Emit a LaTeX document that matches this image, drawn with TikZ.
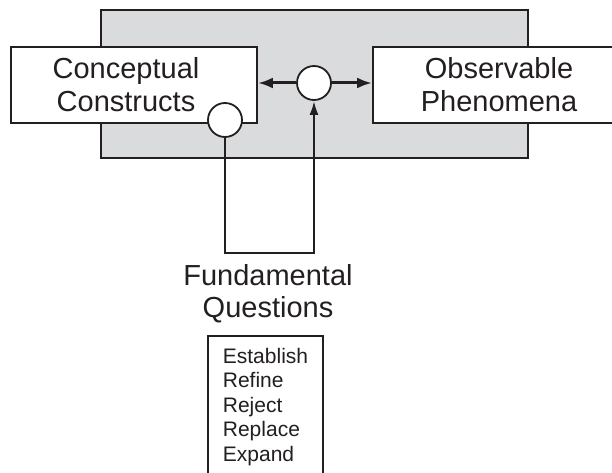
\documentclass[tikz,border=0pt]{standalone}
\usepackage{fontspec}
\setmainfont{Liberation Sans}
\usetikzlibrary{arrows.meta,calc}
\definecolor{ink}{RGB}{35,31,32}
\definecolor{panel}{RGB}{218,219,221}
\tikzstyle{box}=[rectangle,draw=ink,fill=white,line width=1.8pt,inner sep=0pt]
\tikzstyle{boxtext}=[align=center,text=ink,inner sep=0pt,font=\fontsize{29}{33}\selectfont]
\tikzstyle{junction}=[circle,draw=ink,fill=white,line width=1.8pt,minimum size=34pt,inner sep=0pt]
\tikzstyle{link}=[draw=ink,line width=3pt,-{Latex[length=15pt,width=11pt]}]
\tikzstyle{feedback}=[draw=ink,line width=2.2pt,-{Latex[length=14pt,width=9pt]}]

\begin{document}
\begin{tikzpicture}[x=1pt,y=-1pt]
\useasboundingbox (0,0) rectangle (612,473);

% shaded frame behind the two boxes
\draw[fill=panel,draw=ink,line width=1.8pt] (101,10) rectangle (528,158);

\node[box,minimum width=246pt,minimum height=76pt] (conceptual) at (134,85) {};
\node[boxtext] (conceptuallabel) at ([xshift=-8pt]conceptual.center) {Conceptual\\Constructs};
\node[box,minimum width=252pt,minimum height=76pt] (observable) at (499,85) {};
\node[boxtext] (observablelabel) at (observable.center) {Observable\\Phenomena};

\node[junction] (hub) at (314,83) {};
\node[junction] (gate) at (225,120) {};

% arrows out of the hub
\path[link] (hub.west) -- (hub.west -| conceptual.east);
\path[link] (hub.east) -- (hub.east -| observable.west);

% loop from the constructs back up into the hub
\coordinate (bend) at (225,253);
\path[feedback] (gate.south) -- (bend) -| (hub.south);

\node[font=\fontsize{29}{32}\selectfont,align=center,text=ink,inner sep=0pt] (questions) at (268,294) {Fundamental\\Questions};

\node[box,anchor=north west,align=left,inner xsep=15pt,inner ysep=12pt,font=\fontsize{21}{24.5}\selectfont,text=ink] (actions) at (207,335) {Establish\\Refine\\Reject\\Replace\\Expand};

\end{tikzpicture}
\end{document}
